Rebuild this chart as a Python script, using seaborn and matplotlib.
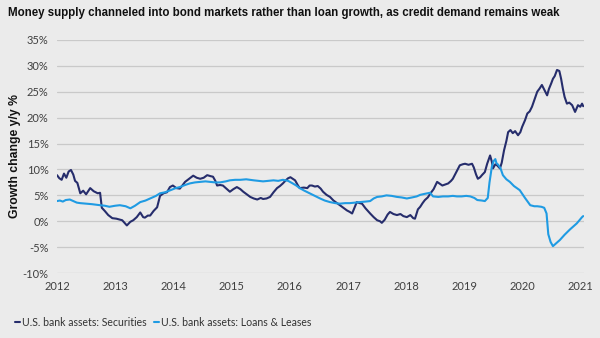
import matplotlib
matplotlib.use("Agg")
import matplotlib.pyplot as plt
import seaborn as sns
import pandas as pd
from matplotlib.ticker import FuncFormatter

title = "Money supply channeled into bond markets rather than loan growth, as credit demand remains weak"
ylabel = "Growth change y/y %"
sec_label = "U.S. bank assets: Securities"
loan_label = "U.S. bank assets: Loans & Leases"
year_ticks = [2012, 2013, 2014, 2015, 2016, 2017, 2018, 2019, 2020, 2021]
pct_ticks = [-10, -5, 0, 5, 10, 15, 20, 25, 30, 35]

sec_dates = [
    2012.00, 2012.04, 2012.08, 2012.12, 2012.16, 2012.20, 2012.24, 2012.28, 2012.31, 2012.35,
    2012.40, 2012.45, 2012.50, 2012.57, 2012.63, 2012.70, 2012.74, 2012.77, 2012.82, 2012.88,
    2012.95, 2013.02, 2013.12, 2013.20, 2013.26, 2013.31, 2013.37, 2013.43, 2013.48, 2013.51,
    2013.56, 2013.60, 2013.66, 2013.72, 2013.77, 2013.83, 2013.89, 2013.94, 2013.99, 2014.05,
    2014.11, 2014.16, 2014.20, 2014.27, 2014.34, 2014.40, 2014.46, 2014.52, 2014.58, 2014.64,
    2014.68, 2014.72, 2014.75, 2014.80, 2014.85, 2014.91, 2014.97, 2015.03, 2015.09, 2015.15,
    2015.20, 2015.26, 2015.32, 2015.38, 2015.44, 2015.50, 2015.54, 2015.60, 2015.66, 2015.72,
    2015.78, 2015.83, 2015.88, 2015.93, 2015.97, 2016.01, 2016.05, 2016.09, 2016.14, 2016.17,
    2016.24, 2016.30, 2016.34, 2016.38, 2016.43, 2016.48, 2016.53, 2016.57, 2016.63, 2016.69,
    2016.75, 2016.80, 2016.86, 2016.92, 2016.98, 2017.03, 2017.07, 2017.11, 2017.15, 2017.20,
    2017.24, 2017.30, 2017.38, 2017.44, 2017.50, 2017.55, 2017.58, 2017.63, 2017.68, 2017.72,
    2017.78, 2017.84, 2017.90, 2017.95, 2018.01, 2018.07, 2018.12, 2018.15, 2018.20, 2018.24,
    2018.28, 2018.32, 2018.37, 2018.41, 2018.47, 2018.53, 2018.58, 2018.62, 2018.67, 2018.72,
    2018.77, 2018.80, 2018.86, 2018.92, 2018.97, 2019.01, 2019.07, 2019.13, 2019.16, 2019.20,
    2019.23, 2019.27, 2019.30, 2019.35, 2019.39, 2019.44, 2019.47, 2019.49, 2019.53, 2019.56,
    2019.61, 2019.64, 2019.68, 2019.72, 2019.75, 2019.79, 2019.83, 2019.87, 2019.92, 2019.96,
    2019.99, 2020.04, 2020.08, 2020.12, 2020.16, 2020.20, 2020.25, 2020.29, 2020.33, 2020.38,
    2020.42, 2020.45, 2020.49, 2020.52, 2020.55, 2020.59, 2020.63, 2020.66, 2020.69, 2020.72,
    2020.76, 2020.80, 2020.85, 2020.90, 2020.95, 2020.99, 2021.02, 2021.04,
]
sec_values = [
    8.9, 8.3, 8.0, 9.2, 8.4, 9.6, 9.9, 9.0, 7.8, 7.4,
    5.4, 5.9, 5.2, 6.4, 5.8, 5.4, 5.5, 2.6, 2.0, 1.2,
    0.6, 0.5, 0.2, -0.8, -0.1, 0.2, 0.8, 1.7, 0.8, 0.7,
    1.1, 1.1, 2.0, 2.7, 4.9, 5.4, 5.6, 6.6, 6.9, 6.4,
    6.3, 7.0, 7.6, 8.2, 8.8, 8.4, 8.2, 8.4, 8.9, 8.7,
    8.6, 7.8, 6.9, 7.0, 6.9, 6.3, 5.7, 6.2, 6.6, 6.2,
    5.7, 5.2, 4.7, 4.4, 4.2, 4.5, 4.3, 4.4, 4.7, 5.6,
    6.4, 6.8, 7.3, 7.9, 8.3, 8.5, 8.2, 7.9, 6.9, 6.4,
    6.5, 6.4, 6.9, 6.9, 6.7, 6.8, 6.3, 5.7, 5.1, 4.7,
    4.0, 3.6, 3.1, 2.6, 2.1, 1.8, 1.5, 2.6, 3.7, 3.5,
    3.4, 2.5, 1.5, 0.8, 0.2, 0.0, -0.3, 0.3, 1.3, 1.8,
    1.4, 1.2, 1.4, 1.0, 0.8, 1.2, 0.6, 0.5, 2.3, 2.8,
    3.5, 4.1, 4.6, 5.3, 6.2, 7.6, 7.2, 6.9, 7.1, 7.3,
    7.8, 8.2, 9.5, 10.8, 11.0, 11.1, 10.9, 11.1, 10.4, 9.0,
    8.2, 8.5, 8.9, 9.5, 11.1, 12.7, 11.5, 10.2, 11.0, 10.8,
    10.2, 11.3, 13.7, 15.5, 17.2, 17.6, 17.0, 17.4, 16.6, 17.2,
    18.2, 19.5, 20.8, 21.2, 22.1, 23.4, 25.0, 25.6, 26.3, 25.2,
    24.3, 25.5, 26.6, 27.5, 28.0, 29.2, 29.0, 27.5, 25.6, 24.0,
    22.7, 22.9, 22.4, 21.1, 22.4, 22.1, 22.7, 22.2,
]

loan_dates = [
    2012.00, 2012.05, 2012.10, 2012.15, 2012.22, 2012.28, 2012.34, 2012.40, 2012.50, 2012.60,
    2012.74, 2012.82, 2012.90, 2013.00, 2013.08, 2013.18, 2013.26, 2013.34, 2013.43, 2013.52,
    2013.60, 2013.70, 2013.77, 2013.86, 2013.95, 2014.04, 2014.11, 2014.20, 2014.28, 2014.37,
    2014.46, 2014.55, 2014.63, 2014.72, 2014.80, 2014.90, 2014.97, 2015.06, 2015.15, 2015.25,
    2015.38, 2015.46, 2015.54, 2015.63, 2015.72, 2015.80, 2015.88, 2015.97, 2016.05, 2016.11,
    2016.17, 2016.25, 2016.34, 2016.43, 2016.52, 2016.60, 2016.69, 2016.78, 2016.86, 2016.95,
    2017.03, 2017.12, 2017.20, 2017.30, 2017.38, 2017.44, 2017.50, 2017.58, 2017.66, 2017.75,
    2017.84, 2017.92, 2018.01, 2018.10, 2018.18, 2018.24, 2018.32, 2018.41, 2018.46, 2018.55,
    2018.63, 2018.72, 2018.80, 2018.87, 2018.95, 2019.03, 2019.10, 2019.17, 2019.22, 2019.30,
    2019.35, 2019.40, 2019.43, 2019.47, 2019.50, 2019.53, 2019.55, 2019.58, 2019.62, 2019.66,
    2019.72, 2019.78, 2019.85, 2019.95, 2020.04, 2020.13, 2020.20, 2020.25, 2020.32, 2020.37,
    2020.41, 2020.44, 2020.48, 2020.52, 2020.56, 2020.64, 2020.72, 2020.81, 2020.93, 2021.02,
    2021.04,
]
loan_values = [
    3.9, 4.0, 3.8, 4.1, 4.2, 3.9, 3.6, 3.5, 3.4, 3.3,
    3.1, 3.0, 2.8, 3.0, 3.1, 2.9, 2.5, 3.0, 3.7, 4.0,
    4.4, 4.9, 5.4, 5.6, 6.0, 6.4, 6.6, 7.0, 7.3, 7.5,
    7.6, 7.7, 7.6, 7.5, 7.5, 7.7, 7.9, 8.0, 8.0, 8.1,
    7.9, 7.8, 7.7, 7.8, 7.9, 7.8, 8.0, 7.8, 7.3, 6.9,
    6.4, 5.9, 5.4, 4.9, 4.4, 4.0, 3.7, 3.5, 3.4, 3.5,
    3.5, 3.6, 3.7, 3.8, 3.9, 4.4, 4.7, 4.8, 5.0, 4.9,
    4.7, 4.6, 4.4, 4.6, 4.8, 5.1, 5.3, 5.5, 4.8, 4.7,
    4.8, 4.8, 4.9, 4.8, 4.8, 4.9, 4.8, 4.5, 4.1, 4.0,
    3.9, 4.5, 7.5, 10.5, 11.6, 12.0, 11.2, 10.9, 10.2, 8.9,
    8.1, 7.6, 6.8, 6.0, 4.5, 3.1, 2.9, 2.9, 2.8, 2.6,
    1.5, -2.5, -4.0, -4.8, -4.4, -3.6, -2.6, -1.6, -0.4, 0.8,
    1.0,
]

sec_df = pd.DataFrame({"year": sec_dates, "value": sec_values})
loan_df = pd.DataFrame({"year": loan_dates, "value": loan_values})

BG = "#ebebeb"
DARK = "#262d6c"
LIGHT = "#1f9be3"

sns.set_theme(style="white")
plt.rcParams["font.family"] = ["Liberation Sans", "DejaVu Sans"]

fig = plt.figure(figsize=(6.0, 3.38), dpi=100, facecolor=BG)
ax = fig.add_axes([0.095, 0.192, 0.878, 0.690])
ax.set_facecolor(BG)

sns.lineplot(data=sec_df, x="year", y="value", ax=ax, color=DARK, linewidth=1.5,
             label=sec_label, estimator=None, sort=False)
sns.lineplot(data=loan_df, x="year", y="value", ax=ax, color=LIGHT, linewidth=1.5,
             label=loan_label, estimator=None, sort=False)

ax.set_ylim(-10, 35)
ax.set_xlim(2012, 2021.05)
ax.set_yticks(pct_ticks)
ax.set_xticks(year_ticks)
ax.yaxis.set_major_formatter(FuncFormatter(lambda v, p: f"{int(v)}%"))
ax.xaxis.set_major_formatter(FuncFormatter(lambda v, p: f"{int(round(v))}"))
ax.grid(axis="y", color="#c9c9c9", linewidth=0.9)
ax.grid(axis="x", visible=False)
ax.set_axisbelow(True)
for s in ax.spines.values():
    s.set_visible(False)
ax.tick_params(axis="both", length=0, labelsize=8, colors="#404040", pad=6)
for lab in ax.get_xticklabels() + ax.get_yticklabels():
    lab.set_fontfamily(["Lato", "DejaVu Sans"])

ax.set_xlabel("")
ax.set_ylabel(ylabel, fontsize=8.8, fontweight="bold", color="#111111")
ax.yaxis.set_label_coords(-0.068, 0.5)

fig.text(0.013, 0.962, title, fontsize=8.3, fontweight="bold", color="#111111",
         ha="left", va="center")

leg = ax.legend(loc="center left", bbox_to_anchor=(-0.080, -0.21), ncol=2, frameon=False,
                fontsize=7.6, handlelength=0.5, handletextpad=0.15, columnspacing=0.7,
                borderaxespad=0, borderpad=0)
for t in leg.get_texts():
    t.set_color("#333333")
    t.set_fontfamily(["Lato", "DejaVu Sans"])

fig.savefig("out.png", dpi=100, facecolor=BG)
